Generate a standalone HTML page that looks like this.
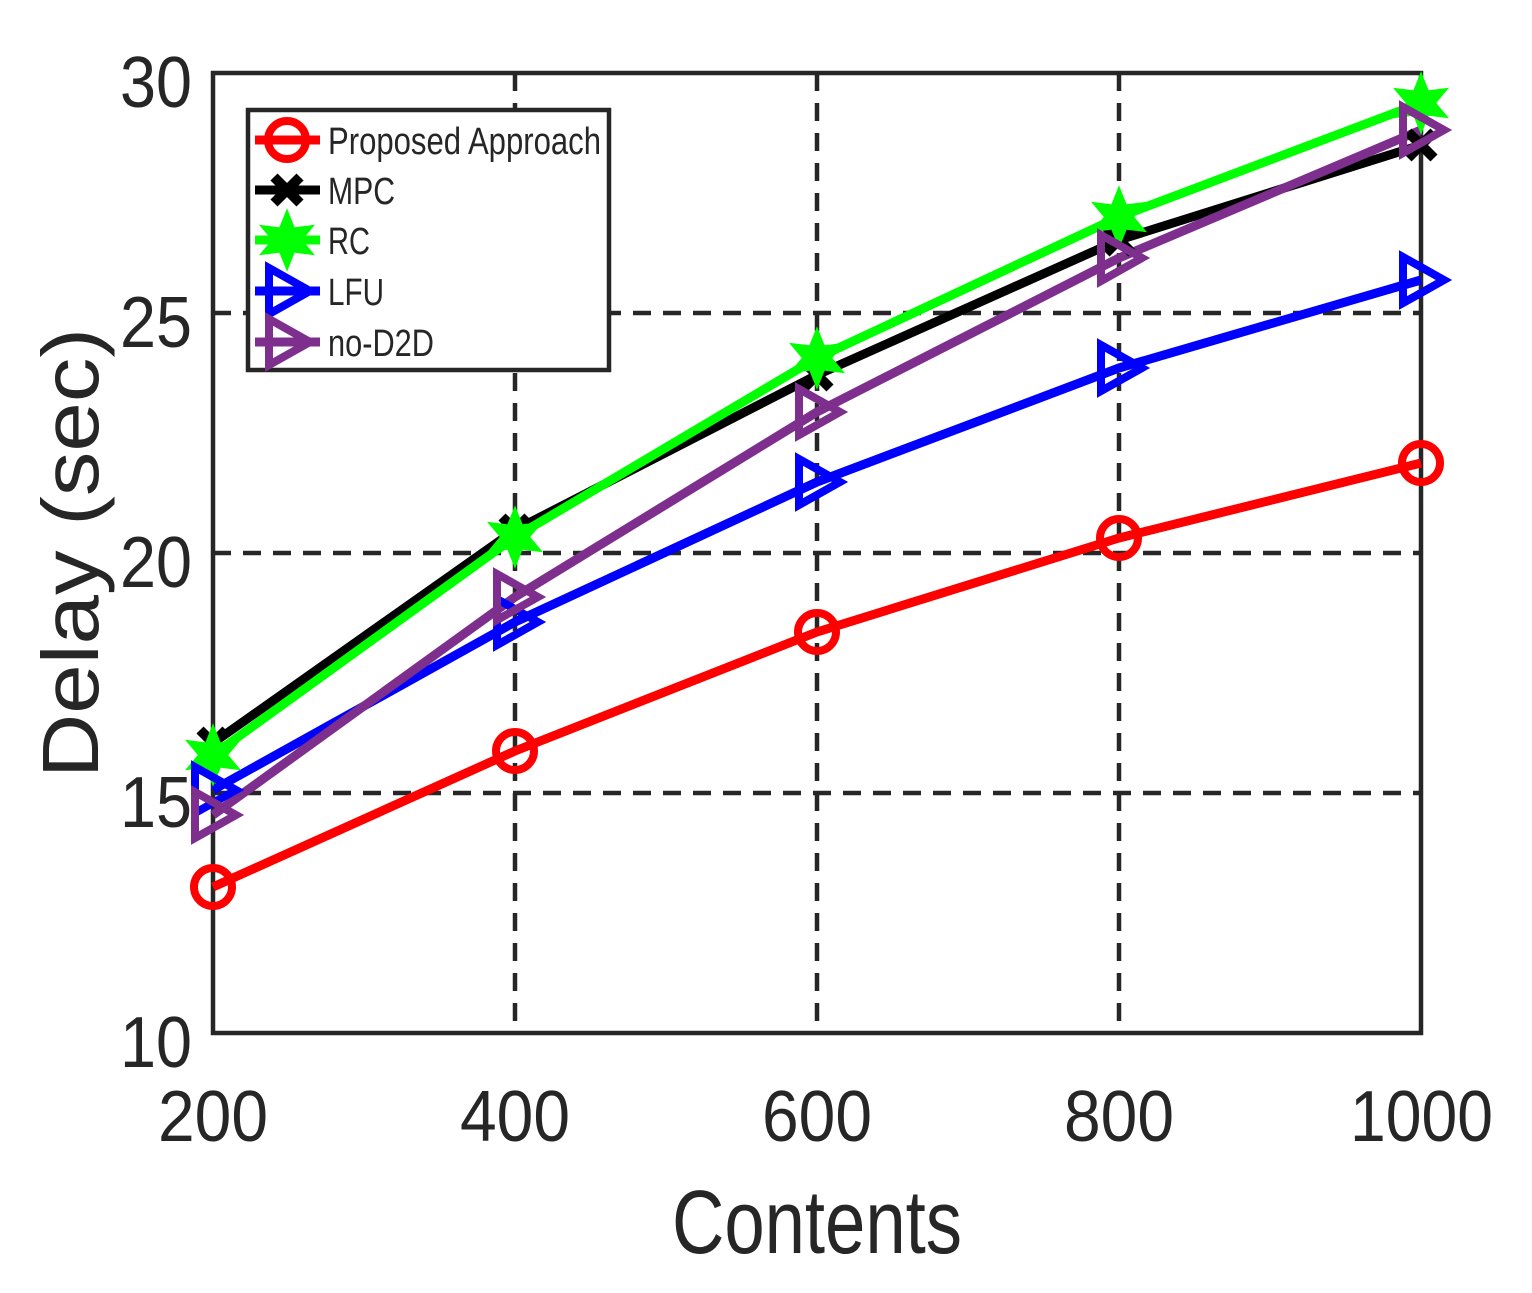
<!DOCTYPE html>
<html><head><meta charset="utf-8"><style>
html,body{margin:0;padding:0;background:#fff;}
svg{display:block;}
text{font-family:"Liberation Sans",sans-serif;fill:#262626;}
</style></head><body>
<svg width="1532" height="1293" viewBox="0 0 1532 1293" xmlns="http://www.w3.org/2000/svg">
<defs>
<g id="tri"><polygon points="-18,-23 23,0 -18,23" fill="none" stroke-width="8" stroke-linejoin="miter"/></g>
<g id="star"><polygon points="0,-25 6,-10 22,-12 12,0 22,12 6,10 0,25 -6,10 -22,12 -12,0 -22,-12 -6,-10" fill="#00ff00" stroke="#00ff00" stroke-width="5"/></g>
<g id="xm"><path d="M-13,-13 L13,13 M-13,13 L13,-13" stroke="#000" stroke-width="10"/></g>
<g id="circ"><circle r="19" fill="none" stroke="#ff0000" stroke-width="8"/></g>
</defs>
<g stroke="#262626" stroke-width="4.5" stroke-dasharray="18,12">
<line x1="515" y1="73" x2="515" y2="1033"/>
<line x1="817" y1="73" x2="817" y2="1033"/>
<line x1="1119" y1="73" x2="1119" y2="1033"/>
<line x1="213" y1="313" x2="1421" y2="313"/>
<line x1="213" y1="553" x2="1421" y2="553"/>
<line x1="213" y1="793" x2="1421" y2="793"/>
</g>
<rect x="213" y="73" width="1208" height="960" fill="none" stroke="#262626" stroke-width="4.5"/>
<g fill="none" stroke-width="9" stroke-linejoin="round">
<polyline stroke="#000" points="213,743 515,530 817,375 1119,240 1421,145"/>
<polyline stroke="#00ff00" points="213,755 515,537 817,358 1119,217 1421,103"/>
<polyline stroke="#0000ff" points="213,790 515,622 817,482 1119,368 1421,280"/>
<polyline stroke="#7e2f8e" points="213,815 515,597 817,412 1119,258 1421,130"/>
<polyline stroke="#ff0000" points="213,887 515,751 817,632 1119,538 1421,463"/>
</g>
<g><use href="#xm" x="213" y="743"/><use href="#xm" x="515" y="530"/><use href="#xm" x="817" y="375"/><use href="#xm" x="1119" y="240"/><use href="#xm" x="1421" y="145"/></g>
<g><use href="#star" x="213" y="755"/><use href="#star" x="515" y="537"/><use href="#star" x="817" y="358"/><use href="#star" x="1119" y="217"/><use href="#star" x="1421" y="103"/></g>
<g stroke="#0000ff"><use href="#tri" x="213" y="790"/><use href="#tri" x="515" y="622"/><use href="#tri" x="817" y="482"/><use href="#tri" x="1119" y="368"/><use href="#tri" x="1421" y="280"/></g>
<g stroke="#7e2f8e"><use href="#tri" x="213" y="815"/><use href="#tri" x="515" y="597"/><use href="#tri" x="817" y="412"/><use href="#tri" x="1119" y="258"/><use href="#tri" x="1421" y="130"/></g>
<g><use href="#circ" x="213" y="887"/><use href="#circ" x="515" y="751"/><use href="#circ" x="817" y="632"/><use href="#circ" x="1119" y="538"/><use href="#circ" x="1421" y="463"/></g>
<rect x="248" y="110" width="361" height="260" fill="#fff" stroke="#262626" stroke-width="4.5"/>
<g stroke-width="9">
<line x1="255" y1="140" x2="320" y2="140" stroke="#ff0000"/>
<line x1="255" y1="190" x2="320" y2="190" stroke="#000"/>
<line x1="255" y1="240" x2="320" y2="240" stroke="#00ff00"/>
<line x1="255" y1="291" x2="320" y2="291" stroke="#0000ff"/>
<line x1="255" y1="342" x2="320" y2="342" stroke="#7e2f8e"/>
</g>
<use href="#circ" x="287" y="140"/>
<use href="#xm" x="287" y="190"/>
<use href="#star" x="287" y="240"/>
<use href="#tri" x="287" y="291" stroke="#0000ff"/>
<use href="#tri" x="287" y="342" stroke="#7e2f8e"/>
<g font-size="38">
<text x="328" y="154" textLength="273" lengthAdjust="spacingAndGlyphs">Proposed Approach</text>
<text x="328" y="204" textLength="67" lengthAdjust="spacingAndGlyphs">MPC</text>
<text x="328" y="254" textLength="42" lengthAdjust="spacingAndGlyphs">RC</text>
<text x="328" y="305" textLength="56" lengthAdjust="spacingAndGlyphs">LFU</text>
<text x="328" y="356" textLength="106" lengthAdjust="spacingAndGlyphs">no-D2D</text>
</g>
<g font-size="72">
<text x="120" y="107" textLength="72" lengthAdjust="spacingAndGlyphs">30</text>
<text x="120" y="347" textLength="72" lengthAdjust="spacingAndGlyphs">25</text>
<text x="120" y="587" textLength="72" lengthAdjust="spacingAndGlyphs">20</text>
<text x="120" y="827" textLength="72" lengthAdjust="spacingAndGlyphs">15</text>
<text x="120" y="1067" textLength="72" lengthAdjust="spacingAndGlyphs">10</text>
</g>
<g font-size="72">
<text x="158" y="1141" textLength="110" lengthAdjust="spacingAndGlyphs">200</text>
<text x="460" y="1141" textLength="110" lengthAdjust="spacingAndGlyphs">400</text>
<text x="762" y="1141" textLength="110" lengthAdjust="spacingAndGlyphs">600</text>
<text x="1064" y="1141" textLength="110" lengthAdjust="spacingAndGlyphs">800</text>
<text x="1350" y="1141" textLength="143" lengthAdjust="spacingAndGlyphs">1000</text>
</g>
<text x="672" y="1253" font-size="90" textLength="290" lengthAdjust="spacingAndGlyphs">Contents</text>
<text transform="translate(98,778) rotate(-90)" font-size="80" textLength="450" lengthAdjust="spacingAndGlyphs">Delay (sec)</text>
</svg>
</body></html>
